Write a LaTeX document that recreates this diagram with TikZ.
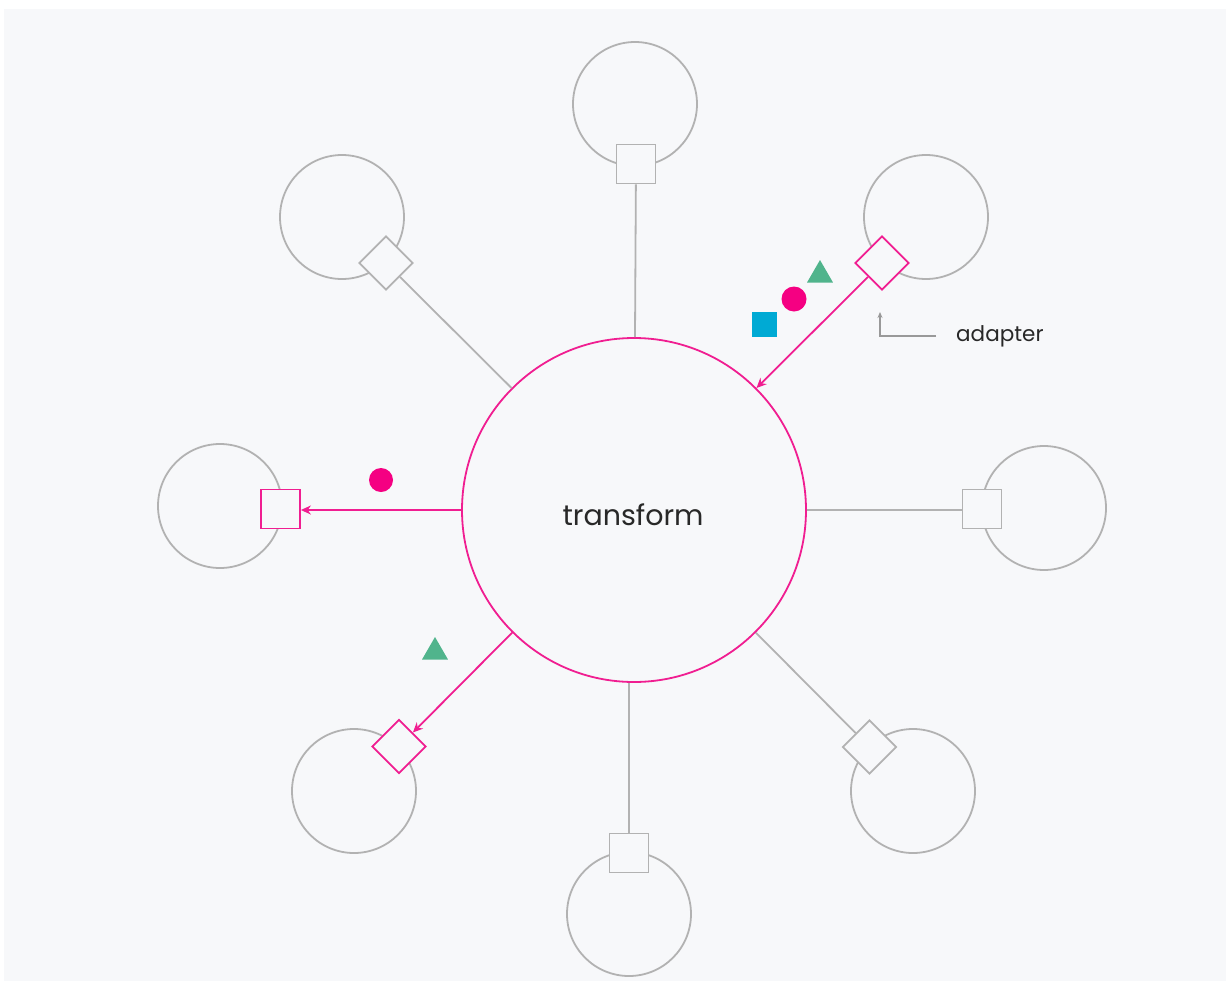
\documentclass[tikz,border=0pt]{standalone}
\usepackage{fontspec}
\setmainfont{Poppins}
\usetikzlibrary{shapes.geometric,arrows.meta}
\definecolor{bgc}{RGB}{247,248,250}
\definecolor{wire}{RGB}{178,178,178}
\definecolor{hot}{RGB}{240,30,145}
\definecolor{dotpink}{RGB}{245,0,130}
\definecolor{leaf}{RGB}{80,180,140}
\definecolor{sky}{RGB}{0,170,212}
\definecolor{ink}{RGB}{40,40,40}
\tikzset{
  service/.style={circle,draw=wire,line width=1.8pt,minimum size=124pt,inner sep=0pt},
  portsq/.style={rectangle,draw=wire,fill=bgc,line width=1.8pt,minimum size=39pt,inner sep=0pt},
  portdm/.style={diamond,draw=wire,fill=bgc,line width=1.8pt,minimum width=54pt,minimum height=54pt,inner sep=0pt},
  active/.style={draw=hot},
  link/.style={draw=wire,line width=1.8pt},
  flow/.style={draw=hot,line width=1.8pt,-{Stealth[length=10pt,width=9pt]}},
  token/.style={fill,inner sep=0pt,draw=none},
}
\begin{document}
\begin{tikzpicture}[x=1pt,y=-1pt]
  \useasboundingbox (0,0) rectangle (1227,983);
  \fill[white] (0,0) rectangle (1227,983);
  \fill[bgc] (4,9) rectangle (1226,981);

  % core
  \node[circle,draw=hot,line width=1.8pt,minimum size=344pt,inner sep=0pt] (hub) at (634,510) {};
  \node[font=\fontsize{28.5}{32}\selectfont,text=ink,inner sep=0pt] (hubname) at (633,515) {transform};

  % outer services
  \node[service] (sN)  at (635,104) {};
  \node[service] (sNE) at (926,217) {};
  \node[service] (sE)  at (1044,508) {};
  \node[service] (sSE) at (913,791) {};
  \node[service] (sS)  at (629,914) {};
  \node[service] (sSW) at (354,791) {};
  \node[service] (sW)  at (220,506) {};
  \node[service] (sNW) at (342,217) {};

  % adapters
  \node[portsq] (pN)  at (636,164) {};
  \node[portdm,active] (pNE) at (882,263) {};
  \node[portsq] (pE)  at (982,509) {};
  \node[portdm] (pSE) at (869.5,747) {};
  \node[portsq] (pS)  at (629,853) {};
  \node[portdm,active] (pSW) at (399,746.5) {};
  \node[portsq,active] (pW)  at (280.5,509) {};
  \node[portdm] (pNW) at (386,263) {};

  % connections
  \draw[link] (hub) -- (pN);
  \draw[link] (hub.east) -- (pE.west |- hub.east);
  \draw[link] (hub) -- (pSE);
  \draw[link] (pS.north |- hub.south) -- (pS.north);
  \draw[link] (hub) -- (pNW);
  \draw[flow] (pNE) -- (hub);
  \draw[flow] (hub.west) -- (pW.east |- hub.west);
  \draw[flow] (hub) -- (pSW);

  % messages in transit
  \node[token,fill=leaf,regular polygon,regular polygon sides=3,minimum size=30pt] (m1) at (820,275) {};
  \node[token,fill=dotpink,circle,minimum size=25pt] (m2) at (794,299) {};
  \node[token,fill=sky,rectangle,minimum size=25pt] (m3) at (764,324) {};
  \node[token,fill=dotpink,circle,minimum size=24pt] (m4) at (381,480) {};
  \node[token,fill=leaf,regular polygon,regular polygon sides=3,minimum size=30pt] (m5) at (435,652) {};

  % annotation
  \node[anchor=west,font=\fontsize{21.5}{24}\selectfont,text=ink,inner sep=0pt] (lbl) at (956,336) {adapter};
  \coordinate (tip) at (880,312);
  \draw[draw=gray!80,line width=1.3pt,-{Stealth[length=6pt,width=5pt]}] ([xshift=-20pt]lbl.west) -| (tip);
\end{tikzpicture}
\end{document}
